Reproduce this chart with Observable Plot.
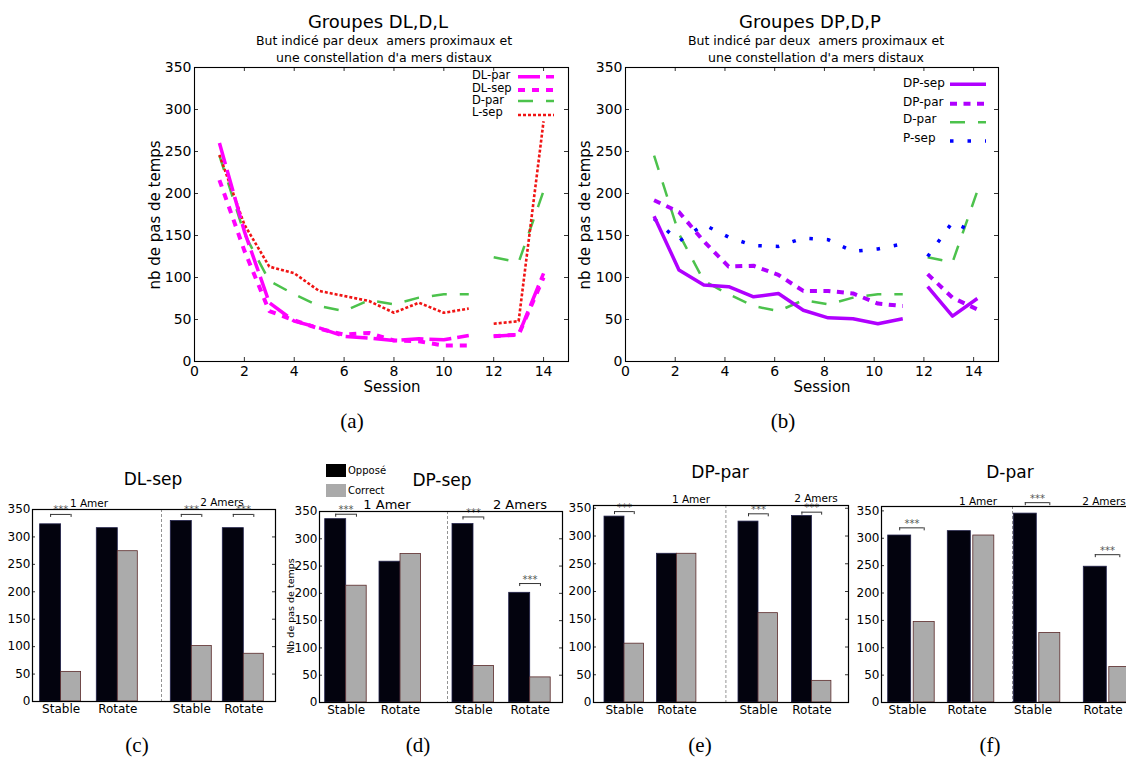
<!DOCTYPE html>
<html><head><meta charset="utf-8">
<script src="https://cdn.jsdelivr.net/npm/d3@7"></script>
<script src="https://cdn.jsdelivr.net/npm/@observablehq/plot@0.6"></script>
<style>
body{margin:0;background:#fff;overflow:hidden;}
#root{position:relative;width:1126px;height:758px;overflow:hidden;font-family:"DejaVu Sans",sans-serif;background:#fff;}
</style></head><body><div id="root"></div>
<script>
// ---------- data: top line charts ----------
const sessions = [1,2,3,4,5,6,7,8,9,10,11,12,13,14];
const dlPar = [260,155,70,48,40,30,28,25,27,26,31,30,32,105];
const dlSep = [216,132,60,49,39,32,34,25,24,19,19,30,32,100];
const dPar  = [245,152,96,80,66,60,73,68,76,80,80,124,118,203];
const lSep  = [246,163,113,105,84,78,72,58,70,58,63,45,48,286];
const dpSep = [173,109,91,89,77,81,61,52,51,45,51,89,54,75];
const dpPar = [192,178,143,113,114,103,84,84,81,69,66,104,76,62];
const pSep  = [170,143,163,148,138,137,147,145,131,134,140,125,166,152];
const xTicks = [0,2,4,6,8,10,12,14];
const yTicks = [0,50,100,150,200,250,300,350];

// ---------- data: bottom bar charts ----------
const conditions = ["Stable","Rotate","Stable","Rotate"];
const amerLabels = ["1 Amer","2 Amers"];
const legendLabels = ["Opposé","Correct"];
const dlSepOppose = [323,316,329,316];
const dlSepCorrect = [54,274,101,87];
const dpSepOppose = [336,258,327,201];
const dpSepCorrect = [214,272,67,46];
const dpParOppose = [335,268,326,336];
const dpParCorrect = [106,268,161,39];
const dParOppose = [305,313,345,248];
const dParCorrect = [147,305,127,65];
const dlSepSigGroups = [0,2,3], dlSepSigLevels = [341,341,341];
const dpSepSigGroups = [0,2,3], dpSepSigLevels = [345,340,218];
const dpParSigGroups = [0,2,3], dpParSigLevels = [344,340,343];
const dParSigGroups = [0,2,3], dParSigLevels = [319,365,270];

const root = document.getElementById("root");
function place(node, left, top){
  node.style.position = "absolute"; node.style.left = left + "px"; node.style.top = top + "px";
  root.appendChild(node);
}
const FONT = "DejaVu Sans";

function linePanel(cfg){
  const {left, top, width, height, mL, mR, mT, mB, series, xOffset} = cfg;
  const fw = width - mL - mR, fh = height - mT - mB;
  const marks = [];
  for (const s of series){
    const rows = sessions.map((x,i)=>({x, v: s.values[i], phase: x <= 11 ? 1 : 2}));
    marks.push(Plot.line(rows, {x: d => d.x + xOffset, y: "v", z: "phase", stroke: s.color,
      strokeWidth: s.width, strokeDasharray: s.dash, strokeLinecap: "butt", strokeLinejoin: "round"}));
  }
  marks.push(
    Plot.ruleX(xTicks, {x: d => d, insetTop: fh - 4, stroke: "#000", strokeWidth: 0.8}),
    Plot.ruleX(xTicks, {x: d => d, insetBottom: fh - 4, stroke: "#000", strokeWidth: 0.8}),
    Plot.ruleY(yTicks, {y: d => d, insetRight: fw - 4, stroke: "#000", strokeWidth: 0.8}),
    Plot.ruleY(yTicks, {y: d => d, insetLeft: fw - 4, stroke: "#000", strokeWidth: 0.8}),
    Plot.axisX(xTicks, {tickSize: 0, tickPadding: 5, fontSize: 14, label: null}),
    Plot.axisY(yTicks, {tickSize: 0, tickPadding: 3, fontSize: 14, label: null}),
    Plot.frame({stroke: "#000", strokeWidth: 1.1})
  );
  const p = Plot.plot({width, height, marginLeft: mL, marginRight: mR, marginTop: mT, marginBottom: mB,
    x: {type: "linear", domain: [0, 15]}, y: {domain: [0, 350]},
    style: {fontFamily: FONT, fontSize: "14px", color: "#000", background: "transparent", overflow: "visible"},
    marks});
  place(p, left, top);
}

function barPanel(cfg){
  const {left, top, width, height, mL, mR, mT, mB, ymax, starts, bw, gap, gw, sep, opp, cor, sigG, sigY, labelShift = 0} = cfg;
  const fw = width - mL - mR, fh = height - mT - mB;
  const rows = conditions.map((c,i)=>({i, c, o: opp[i], k: cor[i]}));
  const junc = starts.map(s => s + bw + gap/2 + labelShift);
  const tickU = 3 * ymax / fh;
  const sig = sigG.map((g,j)=>({a: starts[g] + bw/2, b: starts[g] + bw + gap + gw/2, y: sigY[j]}));
  const marks = [
    Plot.ruleX([sep], {x: d => d, stroke: "#888", strokeDasharray: "3,2", strokeWidth: 0.9}),
    Plot.rect(rows, {x1: d => starts[d.i], x2: d => starts[d.i] + bw, y1: 0, y2: "o",
      fill: "#03030e", stroke: "#22224a", strokeWidth: 0.8}),
    Plot.rect(rows, {x1: d => starts[d.i] + bw + gap, x2: d => starts[d.i] + bw + gap + gw, y1: 0, y2: "k",
      fill: "#ababab", stroke: "#5a2a2a", strokeWidth: 0.8}),
    Plot.ruleY(sig, {x1: "a", x2: "b", y: "y", stroke: "#333", strokeWidth: 1}),
    Plot.ruleX(sig, {x: "a", y1: "y", y2: d => d.y - tickU, stroke: "#333", strokeWidth: 1}),
    Plot.ruleX(sig, {x: "b", y1: "y", y2: d => d.y - tickU, stroke: "#333", strokeWidth: 1}),
    Plot.text(sig, {x: d => (d.a + d.b)/2, y: "y", text: () => "***", dy: -1, lineAnchor: "bottom",
      fontSize: 10, fill: "#555"}),
    Plot.ruleY(yTicks, {y: d => d, insetRight: fw - 3, stroke: "#000", strokeWidth: 0.8}),
    Plot.ruleY(yTicks, {y: d => d, insetLeft: fw - 3, stroke: "#000", strokeWidth: 0.8}),
    Plot.axisX(junc, {tickFormat: d => conditions[junc.indexOf(d)], tickSize: 0, tickPadding: 3, fontSize: 12, label: null}),
    Plot.axisY(yTicks, {tickSize: 0, tickPadding: 2, fontSize: 12, label: null}),
    Plot.frame({stroke: "#000", strokeWidth: 1.2})
  ];
  const p = Plot.plot({width, height, marginLeft: mL, marginRight: mR, marginTop: mT, marginBottom: mB,
    x: {type: "linear", domain: [0, fw]}, y: {domain: [0, ymax]},
    style: {fontFamily: FONT, fontSize: "12px", color: "#000", background: "transparent", overflow: "visible"},
    marks});
  place(p, left, top);
}

// ---------- top panels ----------
linePanel({left: 140, top: 55, width: 440, height: 345, mL: 54, mR: 12, mT: 12, mB: 39, xOffset: 0,
  series: [
    {values: dPar, color: "#4cc24c", width: 2.5, dash: "15,13"},
    {values: lSep, color: "#f01414", width: 2.6, dash: "3,2"},
    {values: dlSep, color: "#ff00ff", width: 4, dash: "7,7"},
    {values: dlPar, color: "#ff00ff", width: 3.5, dash: "22,6"}
  ]});
linePanel({left: 571, top: 55, width: 440, height: 345, mL: 54, mR: 13, mT: 12, mB: 39, xOffset: 0.15,
  series: [
    {values: dPar, color: "#4cc24c", width: 2.5, dash: "15,13"},
    {values: pSep, color: "#0000ff", width: 3.5, dash: "3.5,14"},
    {values: dpPar, color: "#b000ff", width: 4, dash: "7,6.5"},
    {values: dpSep, color: "#b000ff", width: 3.5, dash: null}
  ]});

// ---------- bottom panels ----------
barPanel({left: 0, top: 495, width: 290, height: 225, mL: 32, mR: 15, mT: 14, mB: 19, ymax: 350,
  starts: [7.6, 64.3, 138.3, 190.3], bw: 21, gap: 0, gw: 20, sep: 129,
  opp: dlSepOppose, cor: dlSepCorrect, sigG: dlSepSigGroups, sigY: dlSepSigLevels});
barPanel({left: 280, top: 495, width: 290, height: 225, mL: 39, mR: 8, mT: 16, mB: 18, ymax: 350,
  starts: [5.7, 60, 133, 189.7], bw: 21, gap: 0, gw: 20.5, sep: 128,
  opp: dpSepOppose, cor: dpSepCorrect, sigG: dpSepSigGroups, sigY: dpSepSigLevels});
barPanel({left: 560, top: 490, width: 295, height: 230, mL: 33, mR: 7, mT: 15, mB: 18, ymax: 355,
  starts: [11, 63.4, 145, 198.4], bw: 20, gap: 0, gw: 19.5, sep: 132.4,
  opp: dpParOppose, cor: dpParCorrect, sigG: dpParSigGroups, sigY: dpParSigLevels});
barPanel({left: 845, top: 490, width: 300, height: 230, mL: 36, mR: 5, mT: 16, mB: 18, ymax: 358,
  starts: [6.7, 66.3, 132.3, 202.3], bw: 23, gap: 2.5, gw: 21, sep: 131, labelShift: -5,
  opp: dParOppose, cor: dParCorrect, sigG: dParSigGroups, sigY: dParSigLevels});

// ---------- overlay: titles, labels, legends, captions ----------
const svg = d3.select(root).append("svg").attr("width", 1126).attr("height", 758)
  .style("position", "absolute").style("left", "0px").style("top", "0px").style("pointer-events", "none");
function txt(x, y, s, size, o = {}){
  const t = svg.append("text").attr("x", x).attr("y", y).text(s)
    .attr("font-family", o.family || FONT).attr("font-size", size)
    .attr("text-anchor", o.anchor || "middle").attr("dominant-baseline", "central")
    .attr("fill", o.fill || "#000");
  if (o.rotate) t.attr("transform", `rotate(${o.rotate},${x},${y})`);
  return t;
}
// top-left texts
txt(378, 21, "Groupes DL,D,L", 18);
txt(384, 40, "But indicé par deux\u00a0 amers proximaux et", 12.5);
txt(384, 57, "une constellation d'a mers distaux", 12.5);
txt(155, 215, "nb de pas de temps", 15, {rotate: -90});
txt(392, 387, "Session", 15);
// top-right texts
txt(810, 21, "Groupes DP,D,P", 18);
txt(816, 40, "But indicé par deux\u00a0 amers proximaux et", 12.5);
txt(816, 57, "une constellation d'a mers distaux", 12.5);
txt(585, 215, "nb de pas de temps", 15, {rotate: -90});
txt(822, 387, "Session", 15);

// legends top
function legendLine(x1, x2, y, color, width, dash){
  const l = svg.append("line").attr("x1", x1).attr("x2", x2).attr("y1", y).attr("y2", y)
    .attr("stroke", color).attr("stroke-width", width);
  if (dash) l.attr("stroke-dasharray", dash);
}
const legTL = [["DL-par", "#ff00ff", 3.5, "22,6"], ["DL-sep", "#ff00ff", 4, "7,7"], ["D-par", "#4cc24c", 2.5, "15,13"], ["L-sep", "#f01414", 2.6, "3,2"]];
const legTLy = [75, 88.3, 99.5, 111.7], legTLly = [76.7, 90, 101, 115];
legTL.forEach((d,i)=>{ txt(472, legTLy[i], d[0], 11.5, {anchor: "start"}); legendLine(518, 554, legTLly[i], d[1], d[2], d[3]); });
const legTR = [["DP-sep", "#b000ff", 3.5, null], ["DP-par", "#b000ff", 4, "7,6.5"], ["D-par", "#4cc24c", 2.5, "15,13"], ["P-sep", "#0000ff", 3.5, "3.5,14"]];
const legTRy = [82.7, 101.7, 119.3, 138.3], legTRly = [84.3, 103.7, 122.3, 141];
legTR.forEach((d,i)=>{ txt(903, legTRy[i], d[0], 12, {anchor: "start"}); legendLine(950, 986, legTRly[i], d[1], d[2], d[3]); });

// bottom titles & group labels
txt(153, 479, "DL-sep", 17);
txt(442, 480, "DP-sep", 17);
txt(720, 472, "DP-par", 17);
txt(1010, 472, "D-par", 17);
txt(89, 503, amerLabels[0], 10.5); txt(222, 502, amerLabels[1], 10.5);
txt(387, 504, amerLabels[0], 13); txt(520, 504, amerLabels[1], 13);
txt(691, 498.5, amerLabels[0], 10.5); txt(816, 497.5, amerLabels[1], 10.5);
txt(978, 500.5, amerLabels[0], 10.5); txt(1104, 500.5, amerLabels[1], 10.5);
txt(290, 606, "Nb de pas de temps", 9.5, {rotate: -90});
// legend (d)
svg.append("rect").attr("x", 326).attr("y", 464).attr("width", 20).attr("height", 13).attr("fill", "#000");
svg.append("rect").attr("x", 326).attr("y", 484).attr("width", 20).attr("height", 13).attr("fill", "#aaaaaa");
txt(348, 470, legendLabels[0], 10, {anchor: "start"});
txt(348, 490, legendLabels[1], 10, {anchor: "start"});

// captions
const capFont = "Liberation Serif";
txt(352, 421, "(a)", 21, {family: capFont});
txt(783, 421, "(b)", 21, {family: capFont});
txt(137, 745, "(c)", 21, {family: capFont});
txt(418, 745, "(d)", 21, {family: capFont});
txt(700, 745, "(e)", 21, {family: capFont});
txt(990, 745, "(f)", 21, {family: capFont});
</script></body></html>
